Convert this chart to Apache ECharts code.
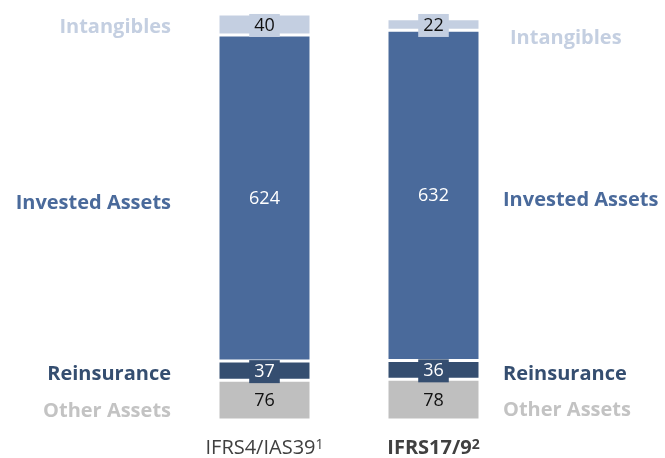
<!DOCTYPE html>
<html>
<head>
<meta charset="utf-8">
<script src="https://cdn.jsdelivr.net/npm/echarts@6/dist/echarts.min.js"></script>
<style>
	html, body { margin: 0; padding: 0; background: #fff; }
	#chart { width: 665px; height: 458px; }
</style>
</head>
<body>
<div id="chart"></div>
<script>
// data
let categories = ['IFRS4/IAS39', 'IFRS17/9']
let footnotes = ['1', '2']
let otherAssets = [76, 78]
let reinsurance = [37, 36]
let investedAssets = [624, 632]
let intangibles = [40, 22]

let fontFamily = 'Open Sans'
let colors = {
	other: '#bfbfbf',
	reins: '#354e70',
	invested: '#4a6a9b',
	intang: '#c4cfe1'
}

// value segment, with a boxed label in the segment colour
function valueSeries(name, data, color, textColor, box) {
	return {
		name: name,
		type: 'bar',
		stack: 'values',
		barWidth: 93,
		data: data,
		itemStyle: { color: color, borderColor: '#fff', borderWidth: 1.5 },
		label: {
			show: true,
			position: 'inside',
			offset: [0, 1],
			color: textColor,
			fontFamily: fontFamily,
			fontSize: 18,
			backgroundColor: box ? color : 'transparent',
			padding: box ? [3, 5, 2, 5] : 0
		},
		emphasis: { disabled: true }
	}
}

// transparent twin stack that only carries the name labels on each side
function nameSeries(name, data, textColor, offsets) {
	return {
		name: name,
		type: 'bar',
		stack: 'names',
		barWidth: 93,
		barGap: '-100%',
		silent: true,
		data: data.map((v, i) => ({
			value: v,
			label: {
				position: i === 0 ? 'left' : 'right',
				distance: i === 0 ? 47 : 23,
				offset: offsets[i]
			}
		})),
		itemStyle: { color: 'transparent' },
		label: {
			show: true,
			formatter: '{a}',
			color: textColor,
			fontFamily: fontFamily,
			fontWeight: 'bold',
			fontSize: 20
		},
		emphasis: { disabled: true }
	}
}

let chart = echarts.init(document.getElementById('chart'))
chart.setOption({
	animation: false,
	grid: { left: 180, right: 147, top: 2, bottom: 37 },
	xAxis: {
		type: 'category',
		data: categories,
		axisLine: { show: false },
		axisTick: { show: false },
		axisLabel: {
			margin: 18,
			formatter: (v, i) => i === 0
				? '{n|' + v + '}{s|' + footnotes[i] + '}'
				: '{b|' + v + '}{sb|' + footnotes[i] + '}',
			rich: {
				n: { fontFamily: fontFamily, fontSize: 20, color: '#404040' },
				s: { fontFamily: fontFamily, fontSize: 14, color: '#404040', verticalAlign: 'top' },
				b: { fontFamily: fontFamily, fontSize: 20, fontWeight: 'bold', color: '#404040' },
				sb: { fontFamily: fontFamily, fontSize: 14, fontWeight: 'bold', color: '#404040', verticalAlign: 'top' }
			}
		}
	},
	yAxis: { type: 'value', min: 0, max: 800, show: false },
	series: [
		valueSeries('Other Assets', otherAssets, colors.other, '#111', false),
		valueSeries('Reinsurance', reinsurance, colors.reins, '#fff', true),
		valueSeries('Invested Assets', investedAssets, colors.invested, '#fff', false),
		valueSeries('Intangibles', intangibles, colors.intang, '#111', true),
		nameSeries('Other Assets', otherAssets, '#c3c3c3', [[0, 11], [0, 11]]),
		nameSeries('Reinsurance', reinsurance, colors.reins, [[0, 4], [0, 4]]),
		nameSeries('Invested Assets', investedAssets, colors.invested, [[0, 5], [0, 5]]),
		nameSeries('Intangibles', intangibles, colors.intang, [[0, 3], [7, 14]])
	]
})
</script>
</body>
</html>
